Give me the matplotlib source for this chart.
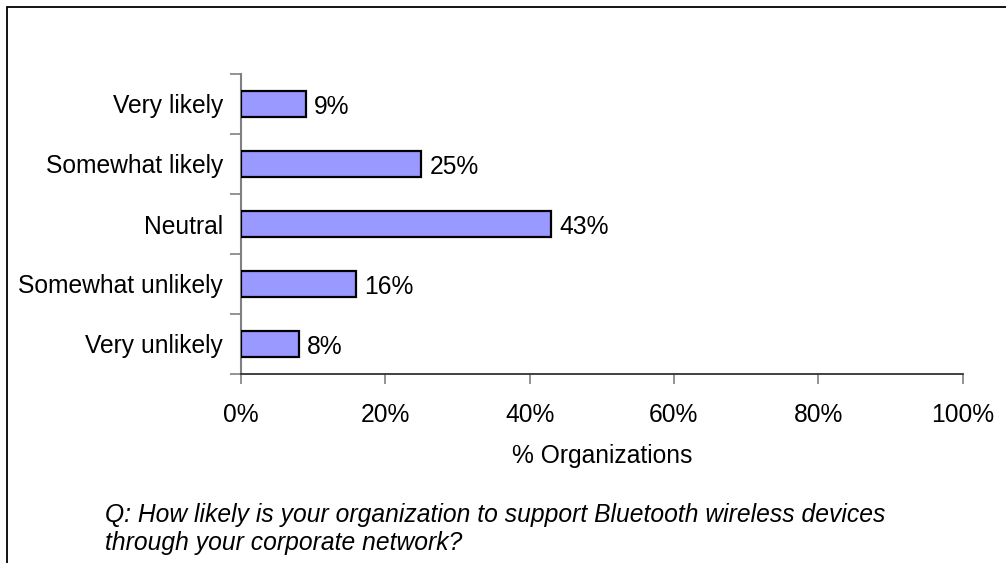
import matplotlib
matplotlib.use("Agg")
from matplotlib import pyplot as plt
from matplotlib.patches import Rectangle
from matplotlib.ticker import FixedLocator

categories = ["Very likely", "Somewhat likely", "Neutral", "Somewhat unlikely", "Very unlikely"]
values = [9, 25, 43, 16, 8]
x_ticks = [0, 20, 40, 60, 80, 100]
x_label = "% Organizations"
question = ("Q: How likely is your organization to support Bluetooth wireless devices\n"
            "through your corporate network?")

plt.rcParams['font.family'] = ['Liberation Sans', 'DejaVu Sans']
FS = 17.7
W, H = 1006, 563

fig = plt.figure(figsize=(W / 100, H / 100), dpi=100)
fig.patch.set_facecolor('white')

# outer frame, clipped at right and bottom like the original
fig.patches.append(Rectangle((7 / W, -0.05), 1.1, 1 - 7 / H + 0.05, transform=fig.transFigure,
                             fill=False, edgecolor='black', linewidth=1.3))

ax = fig.add_axes([241 / W, 1 - 374 / H, (962.5 - 241) / W, (374 - 74) / H])

n = len(categories)
ypos = list(range(n))[::-1]
ax.barh(ypos, values, height=0.42, color='#9999FF', edgecolor='black', linewidth=1.6, zorder=3)
for y, v in zip(ypos, values):
    ax.text(v + 1.1, y, f"{v}%", va='center_baseline', ha='left', fontsize=FS)

ax.set_xlim(0, 100)
ax.set_ylim(-0.5, n - 0.5)
ax.set_xticks(x_ticks)
ax.set_xticklabels([f"{t}%" for t in x_ticks], fontsize=FS)
ax.set_yticks(ypos)
ax.set_yticklabels(categories, fontsize=FS, va='center_baseline')
ax.yaxis.set_minor_locator(FixedLocator([i - 0.5 for i in range(n + 1)]))
ax.tick_params(axis='y', which='major', length=0, pad=13)
ax.tick_params(axis='y', which='minor', length=8, width=1.2, color='#808080', direction='out')
ax.tick_params(axis='x', length=7, width=1.2, color='#808080', direction='out', pad=14)
ax.set_xlabel(x_label, fontsize=FS, labelpad=12)

for side in ['top', 'right']:
    ax.spines[side].set_visible(False)
ax.spines['left'].set_color('#808080')
ax.spines['left'].set_linewidth(1.5)
ax.spines['bottom'].set_color('#333333')
ax.spines['bottom'].set_linewidth(1.3)

fig.text(105 / W, 1 - 503 / H, question, fontsize=FS, style='italic', ha='left', va='top',
         linespacing=1.2)

fig.savefig("out.png", dpi=100)
